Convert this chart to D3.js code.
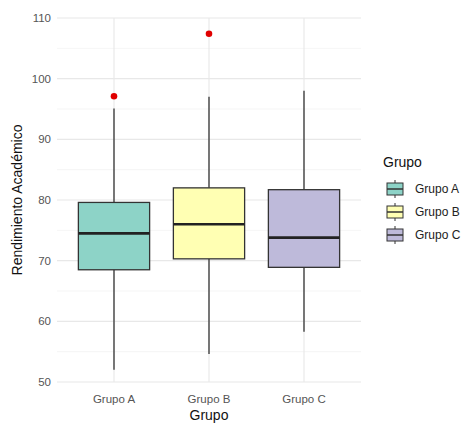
<!DOCTYPE html>
<html><head><meta charset="utf-8">
<script src="https://cdn.jsdelivr.net/npm/d3@7"></script>
<style>body{margin:0;background:#fff;} svg{display:block;font-family:"Liberation Sans",Arial,sans-serif;}</style>
</head><body>
<svg id="chart" width="463" height="423"></svg>
<script>
const categories = ["Grupo A", "Grupo B", "Grupo C"];
const whiskerLow = [52.0, 54.6, 58.3];
const q1 = [68.5, 70.3, 68.9];
const median = [74.5, 76.0, 73.8];
const q3 = [79.6, 82.0, 81.7];
const whiskerHigh = [95.1, 97.0, 98.0];
const outliers = [[97.1], [107.4], []];
const colors = ["#8DD3C7", "#FFFFB3", "#BEBADA"];
const yTicks = [50, 60, 70, 80, 90, 100, 110];
const yMinor = [55, 65, 75, 85, 95, 105];

const svg = d3.select("#chart");
const panel = {left: 57, right: 361, top: 18, bottom: 382};

// ggplot discrete expansion: 0.6 units each side for 3 cats -> 3.2 units
const step = (panel.right - panel.left) / 3.2;
const x = d3.scalePoint().domain(categories)
  .range([panel.left + step * 0.6, panel.right - step * 0.6]);
const xc = c => x(c);
const y = d3.scaleLinear().domain([50, 110]).range([panel.bottom, panel.top]);
const bw = step * 0.75;

const g = svg.append("g");
g.selectAll(".minor").data(yMinor).join("line")
  .attr("x1", panel.left).attr("x2", panel.right)
  .attr("y1", d => y(d)).attr("y2", d => y(d))
  .attr("stroke", "#f3f3f3").attr("stroke-width", 0.8);
g.selectAll(".major").data(yTicks).join("line")
  .attr("x1", panel.left).attr("x2", panel.right)
  .attr("y1", d => y(d)).attr("y2", d => y(d))
  .attr("stroke", "#e8e8e8").attr("stroke-width", 1.1);
g.selectAll(".vgrid").data(categories).join("line")
  .attr("x1", d => xc(d)).attr("x2", d => xc(d))
  .attr("y1", panel.top).attr("y2", panel.bottom)
  .attr("stroke", "#e8e8e8").attr("stroke-width", 1.1);

svg.selectAll(".ytl").data(yTicks).join("text")
  .attr("x", 51).attr("y", d => y(d)).attr("dy", "0.35em")
  .attr("text-anchor", "end").attr("font-size", 11.5).attr("fill", "#555")
  .text(d => d);
svg.selectAll(".xtl").data(categories).join("text")
  .attr("x", d => xc(d)).attr("y", 403)
  .attr("text-anchor", "middle").attr("font-size", 11.5).attr("fill", "#555")
  .text(d => d);
svg.append("text").attr("x", xc("Grupo B")).attr("y", 420)
  .attr("text-anchor", "middle").attr("font-size", 14).attr("fill", "#111").text("Grupo");
svg.append("text").attr("transform", `translate(22,${(panel.top+panel.bottom)/2}) rotate(-90)`)
  .attr("text-anchor", "middle").attr("font-size", 14).attr("fill", "#111").text("Rendimiento Académico");

const data = categories.map((c, i) => ({c, i}));
const bx = g.selectAll(".box").data(data).join("g");
bx.append("line").attr("x1", d => xc(d.c)).attr("x2", d => xc(d.c))
  .attr("y1", d => y(whiskerHigh[d.i])).attr("y2", d => y(q3[d.i]))
  .attr("stroke", "#333").attr("stroke-width", 1.3);
bx.append("line").attr("x1", d => xc(d.c)).attr("x2", d => xc(d.c))
  .attr("y1", d => y(q1[d.i])).attr("y2", d => y(whiskerLow[d.i]))
  .attr("stroke", "#333").attr("stroke-width", 1.3);
bx.append("rect").attr("x", d => xc(d.c) - bw/2).attr("width", bw)
  .attr("y", d => y(q3[d.i])).attr("height", d => y(q1[d.i]) - y(q3[d.i]))
  .attr("fill", d => colors[d.i]).attr("stroke", "#333").attr("stroke-width", 1.3);
bx.append("line").attr("x1", d => xc(d.c) - bw/2).attr("x2", d => xc(d.c) + bw/2)
  .attr("y1", d => y(median[d.i])).attr("y2", d => y(median[d.i]))
  .attr("stroke", "#222").attr("stroke-width", 2.6);
bx.selectAll("circle").data(d => outliers[d.i].map(v => ({v, c: d.c}))).join("circle")
  .attr("cx", d => xc(d.c)).attr("cy", d => y(d.v)).attr("r", 3.3).attr("fill", "#e00000");

svg.append("text").attr("x", 383).attr("y", 167).attr("font-size", 14).attr("fill", "#111").text("Grupo");
const keyY = [189, 212, 235];
const lg = svg.selectAll(".leg").data(data).join("g")
  .attr("transform", d => `translate(395,${keyY[d.i]})`);
lg.append("line").attr("x1", 0).attr("x2", 0).attr("y1", -9).attr("y2", 9).attr("stroke", "#333").attr("stroke-width", 1);
lg.append("rect").attr("x", -8).attr("y", -6).attr("width", 16).attr("height", 12)
  .attr("fill", d => colors[d.i]).attr("stroke", "#333").attr("stroke-width", 1);
lg.append("line").attr("x1", -8).attr("x2", 8).attr("y1", 0).attr("y2", 0).attr("stroke", "#333").attr("stroke-width", 1.5);
lg.append("text").attr("x", 20).attr("y", 0).attr("dy", "0.35em").attr("font-size", 12).attr("fill", "#222").text(d => d.c);
</script>
</body></html>
